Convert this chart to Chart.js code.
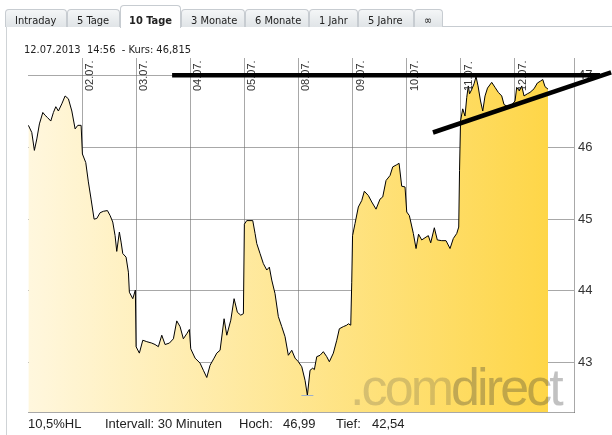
<!DOCTYPE html>
<html>
<head>
<meta charset="utf-8">
<script src="https://cdn.jsdelivr.net/npm/chart.js@4.4.1/dist/chart.umd.min.js"></script>
<style>
  html,body{margin:0;padding:0;background:#fff;}
  body{width:612px;height:435px;overflow:hidden;position:relative;font-family:"Liberation Sans",Arial,sans-serif;}
  #wrap{position:absolute;left:0;top:0;width:612px;height:435px;}
  .tab{position:absolute;box-sizing:border-box;border:1px solid #c7ccd1;border-bottom:none;border-radius:4px 4px 0 0;background:linear-gradient(#f4f6f7,#e0e4e7);}
  .tab.active{background:#fff;}
  .tt{position:absolute;top:14px;line-height:13px;font-family:"DejaVu Sans Condensed","DejaVu Sans",sans-serif;font-size:11px;color:#222;white-space:pre;}
  .ft{position:absolute;top:416px;line-height:15px;font-size:13px;color:#222;white-space:pre;}
  #hdr{position:absolute;left:24px;top:44px;line-height:12px;font-family:"DejaVu Sans Condensed","DejaVu Sans",sans-serif;font-size:11px;color:#222;white-space:pre;}
  #wm{position:absolute;left:350px;top:361px;line-height:52px;font-size:52px;letter-spacing:-2.9px;white-space:pre;pointer-events:none;}
</style>
</head>
<body>
<div id="wrap"><canvas id="c"></canvas></div>

<div style="position:absolute;left:5px;top:26px;width:607px;height:1px;background:#c7ccd1"></div>
<div style="position:absolute;left:6px;top:27px;width:1px;height:408px;background:#cfd3d6"></div>

<div class="tab" style="left:5px;top:9px;width:62px;height:18px"></div>
<div class="tab" style="left:67px;top:9px;width:53px;height:18px"></div>
<div class="tab active" style="left:120px;top:5px;width:61px;height:23px"></div>
<div class="tab" style="left:181px;top:9px;width:64px;height:18px"></div>
<div class="tab" style="left:245px;top:9px;width:64px;height:18px"></div>
<div class="tab" style="left:309px;top:9px;width:49px;height:18px"></div>
<div class="tab" style="left:358px;top:9px;width:56px;height:18px"></div>
<div class="tab" style="left:414px;top:9px;width:29px;height:18px"></div>

<div class="tt" style="left:15px">Intraday</div>
<div class="tt" style="left:77px">5 Tage</div>
<div class="tt" style="left:129px;font-weight:bold">10 Tage</div>
<div class="tt" style="left:191px">3 Monate</div>
<div class="tt" style="left:255px">6 Monate</div>
<div class="tt" style="left:319px">1 Jahr</div>
<div class="tt" style="left:368px">5 Jahre</div>
<div class="tt" style="left:424px">∞</div>

<div id="hdr">12.07.2013  14:56  - Kurs: 46,815</div>

<div id="wm"><span style="color:rgba(70,70,70,0.22)">.com</span><span style="color:rgba(50,50,50,0.30)">direct</span></div>

<div class="ft" style="left:28px">10,5%HL</div>
<div class="ft" style="left:105px">Intervall: 30 Minuten</div>
<div class="ft" style="left:239px">Hoch:</div>
<div class="ft" style="left:283px">46,99</div>
<div class="ft" style="left:336px">Tief:</div>
<div class="ft" style="left:372px">42,54</div>

<script>
// ---- data (x = trading-day position since 01.07.2013, y = price) ----
const timePos = [
  0.007,0.070,0.118,0.163,0.211,0.274,0.316,0.359,0.421,0.470,0.514,0.562,0.625,0.686,0.747,0.810,0.871,0.921,0.982,
  1.006,1.068,1.116,1.166,1.222,1.272,1.333,1.394,1.468,1.518,1.567,1.610,1.641,1.689,1.721,1.752,1.813,1.856,1.874,1.937,1.985,
  1.998,2.059,2.122,2.196,2.288,2.349,2.410,2.473,2.534,2.614,2.688,2.750,2.811,2.872,2.935,2.983,
  3.009,3.089,3.181,3.242,3.305,3.366,3.440,3.490,3.551,3.625,3.675,3.749,3.810,3.871,3.933,3.982,
  4.000,4.044,4.155,4.198,4.229,4.290,4.351,4.414,4.462,4.506,4.567,4.628,4.691,4.752,4.813,4.876,4.937,
  4.998,5.061,5.122,5.165,5.214,5.264,5.294,5.338,5.399,5.460,5.523,5.571,5.645,5.708,5.756,5.830,5.893,5.922,5.967,5.985,
  6.000,6.046,6.107,6.170,6.218,6.292,6.355,6.434,6.508,6.558,6.619,6.693,6.743,6.817,6.860,6.909,6.970,
  7.002,7.050,7.124,7.174,7.220,7.279,7.359,7.401,7.445,7.512,7.567,7.649,7.728,7.802,7.863,7.926,7.963,7.978,
  7.996,8.037,8.079,8.111,8.140,8.163,8.203,8.246,8.283,8.320,8.366,8.407,8.449,8.495,8.573,8.634,8.695,8.758,8.800,8.874,8.948,
  9.004,9.035,9.083,9.128,9.170,9.231,9.281,9.355,9.416,9.479,9.516,9.558,9.614
];
const prices = [
  46.31,46.21,45.96,46.12,46.33,46.49,46.45,46.42,46.37,46.49,46.57,46.51,46.61,46.72,46.68,46.51,46.26,46.31,46.31,
  45.91,45.79,45.52,45.28,45.00,45.01,45.09,45.11,45.12,45.05,44.96,44.77,44.55,44.82,44.68,44.52,44.47,44.26,43.98,43.89,44.01,
  43.22,43.13,43.31,43.29,43.27,43.25,43.22,43.38,43.25,43.27,43.33,43.58,43.50,43.33,43.40,43.46,
  43.19,43.06,42.99,42.89,42.79,42.96,43.06,43.13,43.17,43.61,43.38,43.59,43.89,43.70,43.66,43.68,
  44.93,44.98,44.98,44.80,44.66,44.52,44.38,44.29,44.33,44.15,43.96,43.64,43.50,43.36,43.10,43.17,43.06,
  43.01,42.94,42.75,42.54,42.89,42.92,42.90,43.08,43.10,43.15,43.08,43.01,43.13,43.31,43.47,43.50,43.52,43.54,43.52,44.12,
  44.77,44.94,45.17,45.26,45.39,45.33,45.24,45.14,45.28,45.31,45.54,45.61,45.73,45.76,45.78,45.46,45.45,
  45.10,45.05,44.80,44.59,44.79,44.71,44.75,44.77,44.67,44.88,44.71,44.70,44.70,44.59,44.73,44.80,44.89,45.68,
  46.37,46.54,46.44,46.70,46.86,46.75,46.81,46.89,46.99,46.86,46.65,46.51,46.72,46.83,46.91,46.84,46.77,46.72,46.60,46.57,46.60,
  46.65,46.84,46.79,46.86,46.72,46.75,46.77,46.82,46.90,46.93,46.95,46.85,46.815
];
const dayTicks  = [1,2,3,4,5,6,7,8,9];
const dayLabels = ['02.07.','03.07.','04.07.','05.07.','08.07.','09.07.','10.07.','11.07.','12.07.'];
const priceTicks = [43,44,45,46,47];
const xRange = [0, 10.094];
const yRange = [42.308, 47.25];
// hand-drawn trend lines (day position, price)
const trendA_x = [2.664, 10.575], trendA_y = [47.01, 47.01];
const trendB_x = [7.487, 10.78],  trendB_y = [46.21, 47.05];

const extras = {
  id: 'extras',
  afterDraw(chart) {
    const {ctx, chartArea} = chart;
    const xs = chart.scales.x, ys = chart.scales.y;
    ctx.save();
    // rotated date labels
    ctx.font = '11px "Liberation Sans", Arial, sans-serif';
    ctx.fillStyle = '#333';
    ctx.textAlign = 'left';
    ctx.textBaseline = 'alphabetic';
    dayTicks.forEach((d, i) => {
      const px = xs.getPixelForValue(d);
      ctx.save();
      ctx.translate(px + 11, chartArea.top + 33);
      ctx.rotate(-Math.PI / 2);
      ctx.fillText(dayLabels[i], 0, 0);
      ctx.restore();
    });
    // low marker
    let mi = 0;
    prices.forEach((p, i) => { if (p < prices[mi]) mi = i; });
    const lx = xs.getPixelForValue(timePos[mi]);
    const ly = Math.round(ys.getPixelForValue(prices[mi])) + 0.5;
    ctx.strokeStyle = '#9fb0c8';
    ctx.lineWidth = 1;
    ctx.beginPath(); ctx.moveTo(lx - 6, ly); ctx.lineTo(lx + 6, ly); ctx.stroke();
    // trend lines
    ctx.strokeStyle = '#000';
    ctx.lineWidth = 4.5;
    ctx.lineCap = 'butt';
    [[trendA_x, trendA_y], [trendB_x, trendB_y]].forEach(([tx, ty]) => {
      ctx.beginPath();
      ctx.moveTo(xs.getPixelForValue(tx[0]), ys.getPixelForValue(ty[0]));
      ctx.lineTo(xs.getPixelForValue(tx[1]), ys.getPixelForValue(ty[1]));
      ctx.stroke();
    });
    ctx.restore();
  }
};

const gridCol = 'rgba(110,110,110,0.6)';
new Chart(document.getElementById('c'), {
  type: 'line',
  data: {
    datasets: [{
      data: timePos.map((t, i) => ({x: t, y: prices[i]})),
      borderColor: '#000',
      borderWidth: 1,
      pointRadius: 0,
      tension: 0,
      fill: 'start',
      backgroundColor: (c) => {
        const ch = c.chart, ca = ch.chartArea;
        if (!ca) return 'rgba(254,230,150,1)';
        const xEnd = ch.scales.x.getPixelForValue(timePos[timePos.length - 1]);
        const g = ch.ctx.createLinearGradient(ca.left, 0, xEnd, 0);
        g.addColorStop(0, 'rgb(255,247,222)');
        g.addColorStop(1, 'rgb(254,214,72)');
        return g;
      }
    }]
  },
  options: {
    responsive: true,
    maintainAspectRatio: false,
    animation: false,
    events: [],
    layout: {padding: {left: 28, top: 58, right: 0, bottom: 23}},
    plugins: {legend: {display: false}, tooltip: {enabled: false}},
    scales: {
      x: {
        type: 'linear', min: xRange[0], max: xRange[1], z: 1,
        afterBuildTicks: s => { s.ticks = dayTicks.map(v => ({value: v})); },
        afterFit: s => { s.height = 0; },
        ticks: {display: false},
        grid: {color: gridCol, lineWidth: 1, drawTicks: false},
        border: {display: true, color: gridCol}
      },
      y: {
        position: 'right', min: yRange[0], max: yRange[1], z: 1,
        afterBuildTicks: s => { s.ticks = priceTicks.map(v => ({value: v})); },
        afterFit: s => { s.width = 38; },
        ticks: {color: '#333', padding: 4, font: {family: '"Liberation Sans", Arial, sans-serif', size: 13}},
        grid: {color: gridCol, lineWidth: 1, drawTicks: false},
        border: {display: true, color: gridCol}
      }
    }
  },
  plugins: [extras]
});
</script>
</body>
</html>
